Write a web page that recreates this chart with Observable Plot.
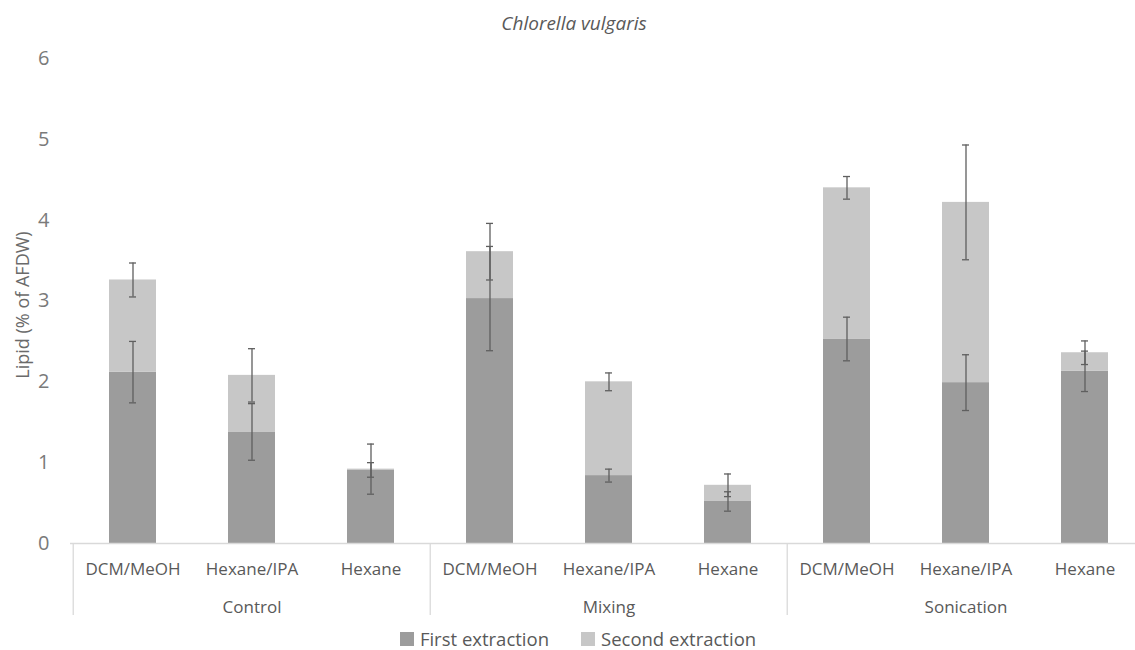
<!DOCTYPE html>
<html>
<head>
<meta charset="utf-8">
<script src="https://cdn.jsdelivr.net/npm/d3@7"></script>
<script src="https://cdn.jsdelivr.net/npm/@observablehq/plot@0.6"></script>
<style>
  html, body { margin: 0; padding: 0; background: #fff; overflow: hidden; }
  body { width: 1135px; font-family: "Open Sans", sans-serif; color: #595959; }
  #title { height: 40px; box-sizing: border-box; padding-top: 3px; padding-left: 13px; line-height: 40px; text-align: center; font-size: 19px; font-style: italic; }
  #legend { height: 30px; box-sizing: border-box; padding-top: 8px; padding-left: 21px; display: flex; justify-content: center; align-items: center; font-size: 18.5px; line-height: 18px; }
  .item { display: flex; align-items: center; }
  .item + .item { margin-left: 32px; }
  .sw { width: 14px; height: 14px; margin-right: 6px; }
</style>
</head>
<body>
<div id="title">Chlorella vulgaris</div>
<div id="chart"></div>
<div id="legend"></div>
<script>
// ---- data ----
const groups = ["Control", "Mixing", "Sonication"];
const methods = ["DCM/MeOH", "Hexane/IPA", "Hexane"];
const seriesNames = ["First extraction", "Second extraction"];
// values in order Control(DCM, Hex/IPA, Hex), Mixing(...), Sonication(...)
const firstExtraction  = [2.12, 1.38, 0.91, 3.03, 0.84, 0.52, 2.53, 1.99, 2.13];
const secondExtraction = [1.14, 0.70, 0.01, 0.58, 1.16, 0.20, 1.87, 2.23, 0.23];
const firstError  = [0.38, 0.35, 0.09, 0.645, 0.08, 0.12, 0.27, 0.345, 0.25];
const secondError = [0.21, 0.33, 0.31, 0.35, 0.11, 0.14, 0.14, 0.71, 0.146];
const yTicks = [0, 1, 2, 3, 4, 5, 6];
const colors = ["#9c9c9c", "#c7c7c7"];

// ---- build tables ----
const keys = [];
groups.forEach(g => methods.forEach(m => keys.push(g + "|" + m)));
const bars = [];
const errs = [];
keys.forEach((k, i) => {
  bars.push({key: k, series: seriesNames[0], value: firstExtraction[i]});
  bars.push({key: k, series: seriesNames[1], value: secondExtraction[i]});
  const t1 = firstExtraction[i];
  const t2 = firstExtraction[i] + secondExtraction[i];
  errs.push({key: k, lo: t1 - firstError[i], hi: t1 + firstError[i]});
  errs.push({key: k, lo: t2 - secondError[i], hi: t2 + secondError[i]});
});
const groupLabels = groups.map(g => ({key: g + "|" + methods[1], label: g}));
const groupStarts = groups.map(g => ({key: g + "|" + methods[0]}));
const groupEnd = [{key: groups[groups.length - 1] + "|" + methods[methods.length - 1]}];

const W = 1135, mL = 70, mR = -11;
const step = (W - mR - mL) / keys.length;

const plot = Plot.plot({
  width: W,
  height: 580,
  marginTop: 18,
  marginBottom: 77,
  marginLeft: mL,
  marginRight: mR,
  style: {fontFamily: "'Open Sans', sans-serif", color: "#595959", background: "#fff", overflow: "visible"},
  x: {domain: keys, paddingInner: 0.607, paddingOuter: 0.3035, label: null},
  y: {domain: [0, 6], label: null},
  color: {domain: seriesNames, range: colors},
  marks: [
    Plot.barY(bars, {x: "key", y: "value", fill: "series"}),
    Plot.ruleX(errs, {x: "key", y1: "lo", y2: "hi", stroke: "#5f5f5f", strokeWidth: 1.3}),
    Plot.tickY(errs, {x: "key", y: "lo", stroke: "#5f5f5f", strokeWidth: 1.3, insetLeft: 20, insetRight: 20}),
    Plot.tickY(errs, {x: "key", y: "hi", stroke: "#5f5f5f", strokeWidth: 1.3, insetLeft: 20, insetRight: 20}),
    Plot.ruleY([0], {stroke: "#d9d9d9", strokeWidth: 1.3}),
    Plot.ruleX(groupStarts, {x: "key", y1: 0, y2: 0, dx: -step / 2, insetBottom: -72, stroke: "#d9d9d9", strokeWidth: 1.3}),
    Plot.ruleX(groupEnd, {x: "key", y1: 0, y2: 0, dx: step / 2, insetBottom: -72, stroke: "#d9d9d9", strokeWidth: 1.3}),
    Plot.axisX({tickSize: 0, tickPadding: 19, fontSize: 17, tickFormat: d => d.split("|")[1], label: null}),
    Plot.axisY({ticks: yTicks, tickFormat: d3.format("d"), tickSize: 0, tickPadding: 21, fontSize: 20, fill: "#7a7a7a", label: null}),
    Plot.text(groupLabels, {x: "key", text: "label", frameAnchor: "bottom", dy: 69, lineAnchor: "bottom", fontSize: 17, fill: "#595959"}),
    Plot.text(["Lipid (% of AFDW)"], {frameAnchor: "left", dx: -47, dy: 4, rotate: -90, fontSize: 18, fill: "#6a6a6a", textAnchor: "middle", lineAnchor: "middle"})
  ]
});
document.getElementById("chart").appendChild(plot);

// legend
const legend = document.getElementById("legend");
seriesNames.forEach((s, i) => {
  const item = document.createElement("div");
  item.className = "item";
  const sw = document.createElement("div");
  sw.className = "sw";
  sw.style.background = colors[i];
  const tx = document.createElement("span");
  tx.textContent = s;
  item.appendChild(sw);
  item.appendChild(tx);
  legend.appendChild(item);
});
</script>
</body>
</html>
